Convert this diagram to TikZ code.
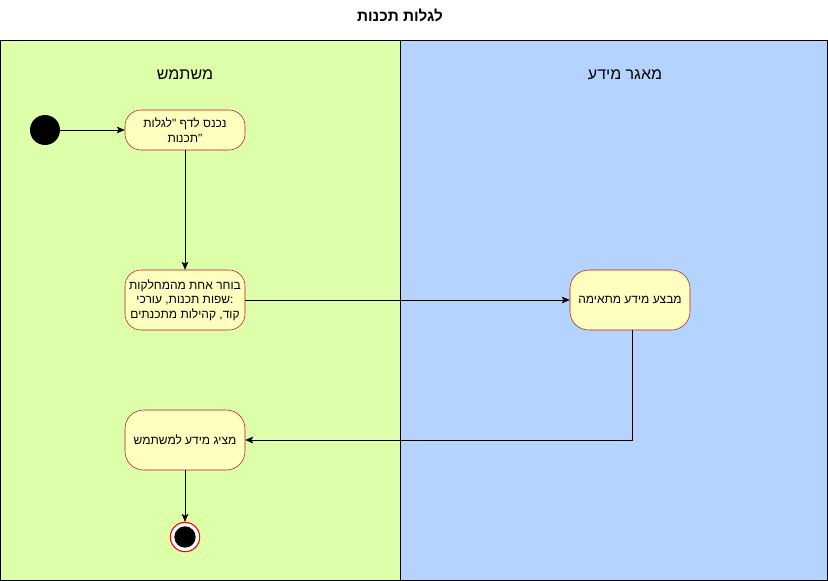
\documentclass[tikz,border=0pt]{standalone}
\usepackage{fontspec}
\usetikzlibrary{arrows.meta}
\setmainfont{Liberation Sans}
\newfontfamily\hebfont[Script=Hebrew]{Liberation Sans}
\TeXXeTstate=1
\definecolor{userlane}{RGB}{221,255,170}
\definecolor{datalane}{RGB}{180,212,255}
\definecolor{actfill}{RGB}{255,255,192}
\definecolor{actline}{RGB}{190,20,20}
\newcommand{\heb}[1]{\hebfont\beginR #1\endR}

\begin{document}
\begin{tikzpicture}[x=0.75pt, y=-0.75pt, >={Stealth[length=6pt, width=5pt, inset=1.5pt]},
    action/.style={draw=actline, fill=actfill, rounded corners=12pt,
      minimum width=90pt, align=center, font=\fontsize{9}{11}\selectfont, inner sep=1pt},
    lanehead/.style={font=\fontsize{12}{14}\selectfont}]

        \useasboundingbox (0,0) rectangle (828,581);

        % Pool title
        \node[font=\bfseries\fontsize{11.5}{13}\selectfont] (title) at (400,15) {\heb{לגלות תכנות}};

        % Swimlanes
        \draw[fill=userlane] (0,40) rectangle (400,580);
        \draw[fill=datalane] (400,40) rectangle (827,580);
        \node[lanehead] (userhead) at (185,75) {\heb{משתמש}};
        \node[lanehead] (datahead) at (625,75) {\heb{מאגר מידע}};

        % Start and end
        \node[circle, fill=black, minimum size=22.5pt, inner sep=0] (start) at (45,130) {};
        \node[circle, draw=red, thick, fill=white, minimum size=22pt, inner sep=0] (stop) at (185,537) {};
        \node[circle, fill=black, minimum size=16pt, inner sep=0] at (stop) {};

        % Actions
        \node[action, minimum height=30pt] (enter) at (185,130)
          {\heb{נכנס לדף "לגלות}\\\heb{"תכנות}};
        \node[action, minimum height=45pt] (choose) at (185,300)
          {\heb{בוחר אחת מהמחלקות}\\\heb{:שפות תכנות, עורכי}\\\heb{קוד, קהילות מתכנתים}};
        \node[action, minimum height=45pt, rounded corners=14pt] (search) at (630,300)
          {\heb{מבצע מידע מתאימה}};
        \node[action, minimum height=45pt, rounded corners=14pt] (show) at (185,440)
          {\heb{מציג מידע למשתמש}};

        % Flow
        \draw[->] (start) -- (enter);
        \draw[->] (enter) -- (choose);
        \draw[->] (choose) -- (search);
        \draw[->] (search.south -| 632,0) |- (show);
        \draw[->] (show) -- (stop);

      \end{tikzpicture}
\end{document}
